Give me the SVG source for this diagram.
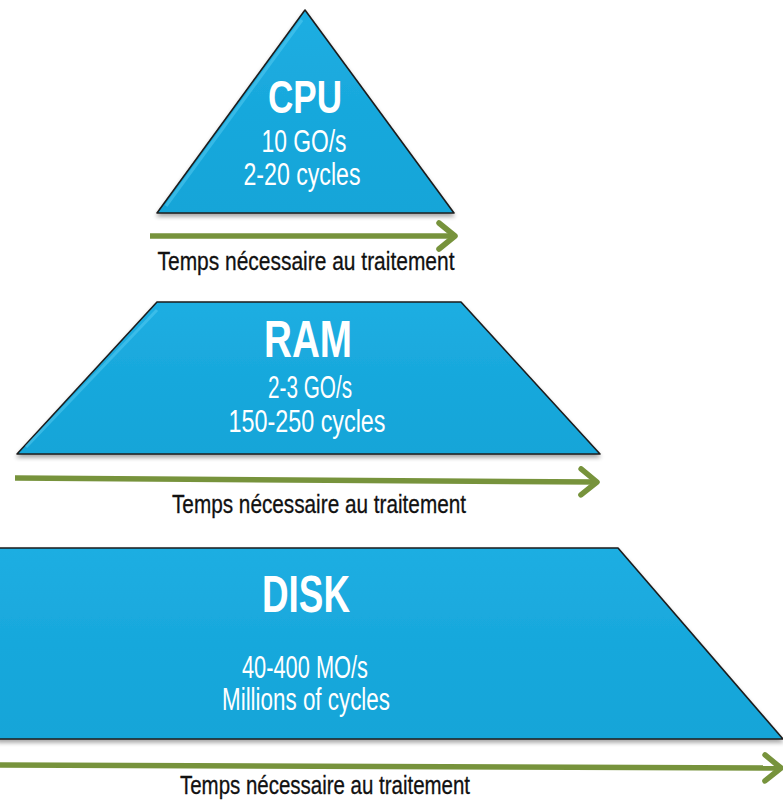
<svg xmlns="http://www.w3.org/2000/svg" width="783" height="801" viewBox="0 0 783 801">
<defs>
<linearGradient id="blue" x1="0" y1="0" x2="0" y2="1">
<stop offset="0" stop-color="#1FAEE2"/>
<stop offset="0.5" stop-color="#18A8DC"/>
<stop offset="1" stop-color="#17A5D8"/>
</linearGradient>
<filter id="sh" x="-5%" y="-5%" width="110%" height="115%">
<feGaussianBlur in="SourceAlpha" stdDeviation="2"/>
<feOffset dx="0" dy="3" result="b"/>
<feComponentTransfer><feFuncA type="linear" slope="0.35"/></feComponentTransfer>
<feMerge><feMergeNode/><feMergeNode in="SourceGraphic"/></feMerge>
</filter>
<marker id="chev" viewBox="0 0 22 32" refX="19" refY="16" markerWidth="22" markerHeight="32" orient="auto" markerUnits="userSpaceOnUse">
<path d="M3,3 L19,16 L3,29" fill="none" stroke="#77933C" stroke-width="5.5" stroke-linecap="round" stroke-linejoin="round"/>
</marker>
</defs>
<style>
.shape{fill:url(#blue);stroke:#1E1E1E;stroke-width:1.6;stroke-linejoin:round;filter:url(#sh)}
.hl{fill:none;stroke:#5FD0F5;stroke-width:3;stroke-opacity:0.45}
.title{font-family:"Liberation Sans Narrow","Liberation Sans",Arial,sans-serif;font-weight:bold;fill:#FFFFFF;text-anchor:middle}
.val{font-family:"Liberation Sans Narrow","Liberation Sans",Arial,sans-serif;fill:#FFFFFF;text-anchor:middle;font-size:31px}
.lbl{font-family:"Liberation Sans Narrow","Liberation Sans",Arial,sans-serif;fill:#111111;stroke:#111111;stroke-width:0.3;text-anchor:middle;font-size:26px}
.arrow{fill:none;stroke:#77933C;stroke-width:5.5;marker-end:url(#chev)}
</style>
<rect x="0" y="0" width="783" height="801" fill="#FFFFFF"/>

<g id="cpu">
<path class="shape" d="M305,10 L454,213 L157,213 Z"/>
<path class="hl" d="M302,20 L166,206"/>
<text class="title" x="305" y="113" font-size="46" textLength="74" lengthAdjust="spacingAndGlyphs">CPU</text>
<text class="val" x="304" y="152" textLength="85" lengthAdjust="spacingAndGlyphs">10 GO/s</text>
<text class="val" x="302" y="185" textLength="117" lengthAdjust="spacingAndGlyphs">2-20 cycles</text>
</g>

<g id="ram">
<path class="shape" d="M157,302 L461,302 L600,454 L17,454 Z"/>
<path class="hl" d="M157,310 L26,447"/>
<text class="title" x="308" y="357" font-size="51" textLength="88" lengthAdjust="spacingAndGlyphs">RAM</text>
<text class="val" x="310" y="398" font-size="29" textLength="84" lengthAdjust="spacingAndGlyphs">2-3 GO/s</text>
<text class="val" x="307" y="432" font-size="29" textLength="157" lengthAdjust="spacingAndGlyphs">150-250 cycles</text>
</g>

<g id="disk">
<path class="shape" d="M-3,548 L618,548 L783,739 L-3,739 Z"/>
<text class="title" x="306" y="612" font-size="52" textLength="88" lengthAdjust="spacingAndGlyphs">DISK</text>
<text class="val" x="305" y="678" textLength="126" lengthAdjust="spacingAndGlyphs">40-400 MO/s</text>
<text class="val" x="306" y="710" textLength="168" lengthAdjust="spacingAndGlyphs">Millions of cycles</text>
</g>

<g id="connectors">
<line class="arrow" x1="150" y1="236" x2="455" y2="236"/>
<line class="arrow" x1="15" y1="478" x2="597" y2="482"/>
<line class="arrow" x1="-2" y1="765" x2="781" y2="768"/>
</g>

<g id="labels">
<text class="lbl" x="306" y="270" textLength="297" lengthAdjust="spacingAndGlyphs">Temps nécessaire au traitement</text>
<text class="lbl" x="319" y="513" textLength="294" lengthAdjust="spacingAndGlyphs">Temps nécessaire au traitement</text>
<text class="lbl" x="325" y="794" textLength="290" lengthAdjust="spacingAndGlyphs">Temps nécessaire au traitement</text>
</g>
</svg>
